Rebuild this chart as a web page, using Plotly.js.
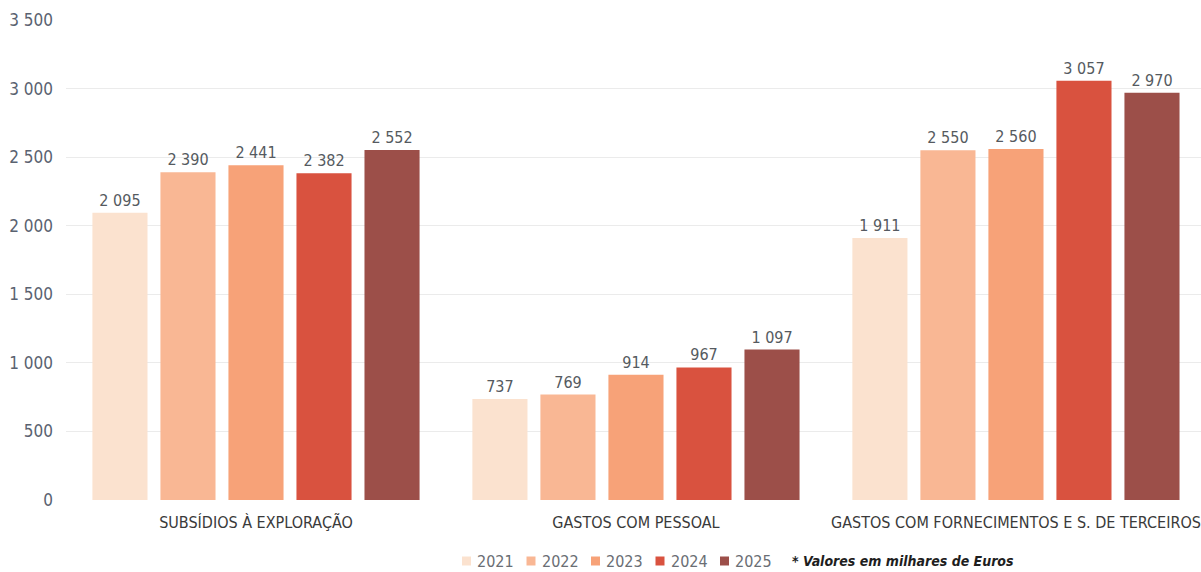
<!DOCTYPE html>
<html>
<head>
<meta charset="utf-8">
<script src="https://cdn.plot.ly/plotly-3.0.1.min.js"></script>
<style>html,body{margin:0;padding:0;background:#fff;}#chart{width:1201px;height:572px;}</style>
</head>
<body>
<div id="chart"></div>
<script>
const categories = ["SUBSÍDIOS À EXPLORAÇÃO", "GASTOS COM PESSOAL", "GASTOS COM FORNECIMENTOS E S. DE TERCEIROS"];
const years = ["2021", "2022", "2023", "2024", "2025"];
const v2021 = [2095, 737, 1911];
const v2022 = [2390, 769, 2550];
const v2023 = [2441, 914, 2560];
const v2024 = [2382, 967, 3057];
const v2025 = [2552, 1097, 2970];
const yTicks = [0, 500, 1000, 1500, 2000, 2500, 3000, 3500];
const note = "* Valores em milhares de Euros";

const series = [v2021, v2022, v2023, v2024, v2025];
const colors = ["#fbe2cf", "#f9b794", "#f7a278", "#d9523f", "#9c4f49"];
const FONT = "'Liberation Sans Narrow', 'DejaVu Sans Condensed', 'Liberation Sans', sans-serif";

// plot area geometry (pixels)
const L = 66, R = 0, T = 20, B = 72, WIDTH = 1201, HEIGHT = 572;
const PW = WIDTH - L - R, PH = HEIGHT - T - B;
const px2x = p => (p - L) / PW;
const py2y = p => (HEIGHT - B - p) / PH;

const traces = series.map((vals, i) => ({
  type: "bar",
  name: years[i],
  x: categories,
  y: vals,
  marker: {color: colors[i]},
  texttemplate: "%{y:,d}",
  textposition: "outside",
  textfont: {family: FONT, size: 16, color: "#555a60"},
  cliponaxis: false,
  showlegend: false,
  hoverinfo: "x+y+name"
}));

// custom legend: coloured squares + labels
const legendStart = 462, legendPitch = 64.5, legendY = 561, sq = 9;
const shapes = years.map((yr, i) => {
  const x0 = legendStart + i * legendPitch;
  return {
    type: "rect", xref: "paper", yref: "paper",
    x0: px2x(x0), x1: px2x(x0 + sq),
    y0: py2y(legendY + sq / 2), y1: py2y(legendY - sq / 2),
    fillcolor: colors[i], line: {width: 0}
  };
});
const annotations = years.map((yr, i) => ({
  xref: "paper", yref: "paper",
  x: px2x(legendStart + i * legendPitch + sq + 4), y: py2y(legendY),
  xanchor: "left", yanchor: "middle", showarrow: false,
  text: yr, font: {family: FONT, size: 16, color: "#6a6e74"}
}));
annotations.push({
  xref: "paper", yref: "paper", x: px2x(790), y: py2y(legendY),
  xanchor: "left", yanchor: "middle", showarrow: false,
  text: "<b><i>" + note + "</i></b>",
  font: {family: FONT, size: 14, color: "#1e1e1e"}
});

const layout = {
  width: WIDTH, height: HEIGHT,
  margin: {l: L, r: R, t: T, b: B},
  paper_bgcolor: "#ffffff",
  plot_bgcolor: "#ffffff",
  separators: ", ",
  barmode: "group",
  bargap: 0.105,
  bargroupgap: 0.19,
  font: {family: FONT, size: 14, color: "#555"},
  showlegend: false,
  xaxis: {
    range: [-0.5, 2.487],
    showline: false, zeroline: false, showgrid: false,
    ticks: "", tickfont: {family: FONT, size: 16, color: "#3a3a3a"},
    ticklabelstandoff: 11
  },
  yaxis: {
    range: [0, 3500],
    tickvals: yTicks,
    tickformat: ",d",
    separatethousands: true,
    showgrid: true, gridcolor: "#ebebeb", gridwidth: 1,
    zeroline: false, showline: false, ticks: "",
    tickfont: {family: FONT, size: 17, color: "#5a6270"},
    ticklabelstandoff: 12
  },
  shapes: shapes,
  annotations: annotations
};

Plotly.newPlot("chart", traces, layout, {displayModeBar: false, staticPlot: true});
</script>
</body>
</html>
